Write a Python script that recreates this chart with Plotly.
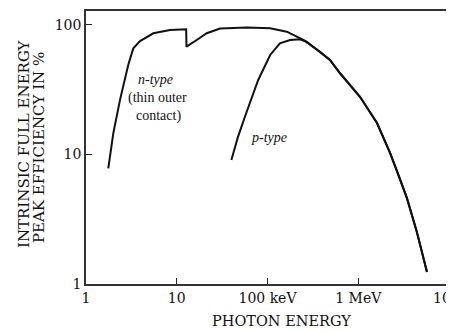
import plotly.graph_objects as go

# n-type (thin outer contact) detector: photon energy (keV) vs efficiency (%)
n_energy_kev = [1.76, 2.0, 2.37, 2.92, 3.32, 3.94, 5.52, 8.43, 12.7, 12.8, 16.6, 21.4,
                30, 59, 107, 163, 248, 379, 488, 630, 1045, 1610, 2240, 2810, 3440,
                4440, 5720]
n_eff_pct = [7.8, 14.6, 26.4, 49.1, 66, 75.2, 86.3, 91.5, 92.7, 68, 76.6, 86.3,
             94, 95.6, 94.3, 88.8, 76.6, 62.2, 53.7, 42.4, 27.9, 17.5, 10.3, 6.8, 4.6,
             2.5, 1.24]

# p-type detector
p_energy_kev = [40, 47, 57, 79, 107, 137, 177, 228, 270, 379, 488, 630, 1045, 1610,
                2240, 2810, 3440, 4440, 5720]
p_eff_pct = [9.06, 13.5, 20, 37.6, 58.7, 72.2, 76.6, 77.6, 74.3, 62.2, 53.7, 42.4,
             27.9, 17.5, 10.3, 6.8, 4.6, 2.5, 1.24]

x_tick_vals = [1, 10, 100, 1000, 10000]
x_tick_text = ["1", "10", "100 keV", "1 MeV", "10"]
y_tick_vals = [1, 10, 100]
y_tick_text = ["1", "10", "100"]

OFF = 8  # page body margin
W, H = 454 - OFF, 331 - OFF
ML, MR, MT, MB = 86 - OFF, 5, 11 - OFF, 47
PW, PH = W - ML - MR, H - MT - MB

def px_x(px):
    return (px - OFF - ML) / PW

def px_y(py):
    return (H - MB - (py - OFF)) / PH

fig = go.Figure()
line_style = dict(color="#111111", width=2)
fig.add_trace(go.Scatter(x=n_energy_kev, y=n_eff_pct, mode="lines", line=line_style,
                         name="n-type", showlegend=False))
fig.add_trace(go.Scatter(x=p_energy_kev, y=p_eff_pct, mode="lines", line=line_style,
                         name="p-type", showlegend=False))

serif = "Liberation Serif"
titlefont = "DejaVu Serif"

annotations = [
    dict(text="<i>n-type</i>", x=px_x(155), y=px_y(79), font=dict(family=serif, size=14)),
    dict(text="(thin outer", x=px_x(157), y=px_y(98), font=dict(family=serif, size=14)),
    dict(text="contact)", x=px_x(158), y=px_y(116), font=dict(family=serif, size=14)),
    dict(text="<i>p-type</i>", x=px_x(269), y=px_y(137), font=dict(family=serif, size=14)),
    dict(text="INTRINSIC FULL ENERGY", x=px_x(24), y=px_y(144), textangle=-90,
         font=dict(family=titlefont, size=15)),
    dict(text="PEAK EFFICIENCY IN %", x=px_x(39), y=px_y(148), textangle=-90,
         font=dict(family=titlefont, size=15)),
    dict(text="PHOTON ENERGY", x=px_x(281), y=px_y(321),
         font=dict(family=titlefont, size=14.5)),
]
for a in annotations:
    a.update(xref="paper", yref="paper", showarrow=False, xanchor="center",
             yanchor="middle")
    a["font"]["color"] = "#111111"

# last x tick label (10 MeV) placed right-aligned at its tick so it stays inside the page
last_label = dict(text=x_tick_text[-1], xref="x", x=4, yref="paper", y=px_y(297.5),
                  xanchor="right", yanchor="middle", xshift=4, showarrow=False,
                  font=dict(family=titlefont, size=14, color="#111"))
annotations.append(last_label)
axis_tick_text = x_tick_text[:-1] + [""]

fig.update_layout(
    width=W, height=H,
    margin=dict(l=ML, r=MR, t=MT, b=MB, autoexpand=False),
    paper_bgcolor="white", plot_bgcolor="white",
    annotations=annotations,
    xaxis=dict(type="log", range=[0, 4], tickvals=x_tick_vals, ticktext=axis_tick_text,
               ticks="inside", ticklen=6, tickwidth=1.2, tickcolor="#222",
               automargin=False,
               showline=True, mirror=True, linecolor="#333", linewidth=1.5,
               showgrid=False, zeroline=False,
               tickfont=dict(family=titlefont, size=14, color="#111")),
    yaxis=dict(type="log", range=[0, 2.108], tickvals=y_tick_vals, ticktext=y_tick_text,
               ticks="inside", ticklen=6, tickwidth=1.2, tickcolor="#222",
               automargin=False,
               showline=True, mirror=True, linecolor="#333", linewidth=1.5,
               showgrid=False, zeroline=False,
               tickfont=dict(family=titlefont, size=14, color="#111")),
)

fig.write_html("out.html")
